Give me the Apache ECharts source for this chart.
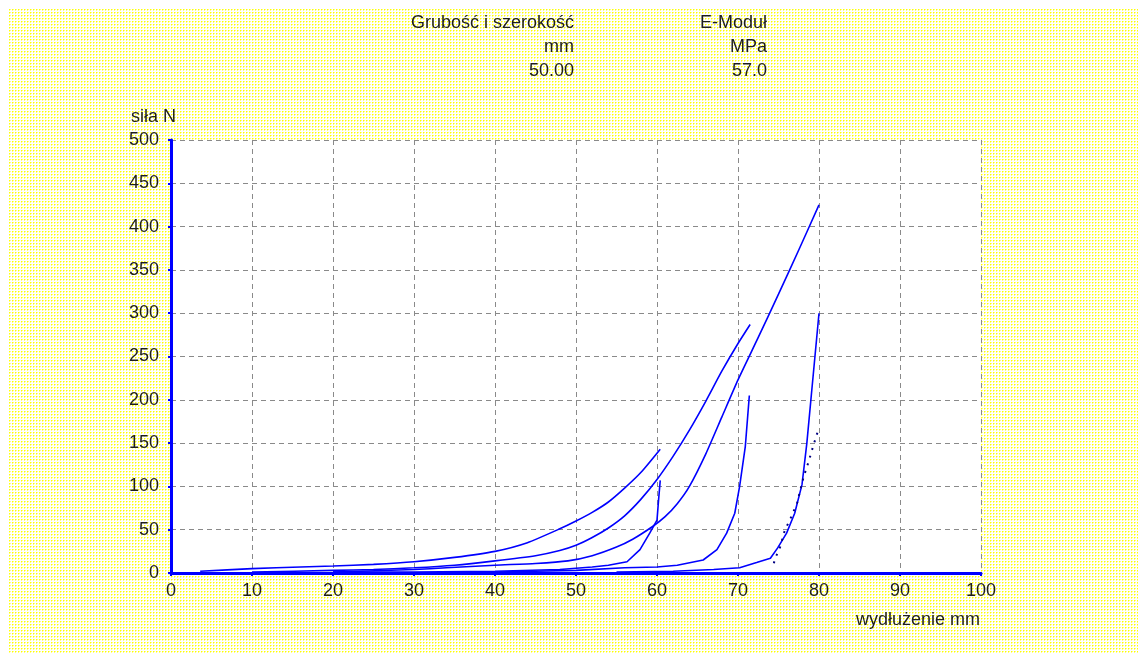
<!DOCTYPE html>
<html><head><meta charset="utf-8">
<script src="https://cdn.jsdelivr.net/npm/echarts@6.0.0/dist/echarts.min.js"></script>
<style>html,body{margin:0;padding:0;background:#fff}#c{width:1138px;height:653px}</style>
</head><body><div id="c"></div>
<script>
// ---- data ----
const headerLeft = ['Grubość i szerokość', 'mm', '50.00'];
const headerRight = ['E-Moduł', 'MPa', '57.0'];
const yAxisTitle = 'siła N';
const xAxisTitle = 'wydłużenie mm';

// loading curves [elongation mm, force N]
const loadA = [[3.6,2],[10,5],[16,7],[20,8],[25,10],[30,13],[35,18],[40,25],[44,35],[48,51],[50,60],[52,70],[54,82],[56,98],[58,116],[60.4,143]];
const loadB = [[10,1],[20,3],[25,4],[30,6],[35,9],[40,14],[45,20],[48,26],[50,32],[52,41],[54,52],[56,66],[58,85],[60,108],[62,135],[64,165],[66,198],[68,233],[70,265],[71.5,287]];
const loadC = [[20,1],[30,4],[34,6],[40,9],[45,11],[49,14],[52,20],[55,30],[57,39],[59.5,54],[61,65],[62.5,80],[64,100],[66,137],[68,180],[70,223],[72.5,272],[75,322],[77.5,373],[80,425]];
// steep branches
const unloadA = [[60.4,107],[60.2,85],[60,61],[59.1,46],[57.9,27],[56.3,13],[54,9],[52,7],[48,4],[40,2],[30,1],[20,1]];
const unloadB = [[71.4,205],[70.9,146],[70.2,100],[69.6,69],[68.6,46],[67.4,27],[65.7,15],[62.5,9],[60,7],[56,6],[50,3],[45,2],[40,1]];
const unloadC = [[80,300],[79.5,250],[79,200],[78.5,150],[77.9,102],[77,69],[76,46],[74.9,29],[74,17],[72.3,12],[70.2,6],[67,4],[62,2],[55,1]];
const dotted = [[79.8,162],[79.2,144],[78.7,128],[78.1,111],[77.3,81],[76.4,61],[75.8,50],[75.2,30],[74.6,17],[74.3,7]];

// ---- chart ----
const tile = document.createElement('canvas');
tile.width = 3; tile.height = 3;
const g = tile.getContext('2d');
g.fillStyle = '#ffffff'; g.fillRect(0,0,3,3);
g.fillStyle = '#ffff00'; g.fillRect(0,0,1,1);
g.fillStyle = '#ffff80'; g.fillRect(1,0,1,1); g.fillRect(0,1,1,1);

const FONT = '"Liberation Sans", Arial, sans-serif';
const TXT = '#1e1e1e';
const BLUE = '#0000ff';

function txt(text, x, y, align) {
  return { type: 'text', x: x, y: y, z: 10, silent: true,
    style: { text: text, font: '18px ' + FONT, fill: TXT, align: align, verticalAlign: 'middle',
             textAlign: align, textVerticalAlign: 'middle' } };
}
const graphics = [
  { type: 'rect', z: -10, silent: true, shape: { x: 8, y: 9, width: 1130, height: 644 },
    style: { fill: { image: tile, repeat: 'repeat' } } },
  { type: 'rect', z: -9, silent: true, shape: { x: 171, y: 140, width: 810, height: 433 },
    style: { fill: '#ffffff' } }
];
headerLeft.forEach((t, i) => graphics.push(txt(t, 574, 23 + i * 24, 'right')));
headerRight.forEach((t, i) => graphics.push(txt(t, 767, 23 + i * 24, 'right')));
graphics.push(txt(yAxisTitle, 131, 117, 'left'));
graphics.push(txt(xAxisTitle, 980, 620, 'right'));

function curve(data, sm) {
  return { type: 'line', data: data, showSymbol: false, symbol: 'none', silent: true,
    smooth: sm,
    lineStyle: { color: BLUE, width: 1.6 }, animation: false };
}

const chart = echarts.init(document.getElementById('c'), null, { renderer: 'canvas' });
chart.setOption({
  animation: false,
  backgroundColor: '#ffffff',
  grid: { left: 171, right: 157, top: 140, bottom: 80, show: false },
  xAxis: {
    type: 'value', min: 0, max: 100, interval: 10,
    axisLine: { show: true, onZero: false, lineStyle: { color: BLUE, width: 3 } },
    axisTick: { show: true, length: 3, lineStyle: { color: BLUE, width: 2 } },
    axisLabel: { color: TXT, fontSize: 18, fontFamily: FONT, margin: 9 },
    splitLine: { show: true, lineStyle: { color: '#8a8a8a', width: 1, type: [5, 4] } }
  },
  yAxis: {
    type: 'value', min: 0, max: 500, interval: 50,
    axisLine: { show: true, onZero: false, lineStyle: { color: BLUE, width: 3 } },
    axisTick: { show: true, length: 3, lineStyle: { color: BLUE, width: 2 } },
    axisLabel: { color: TXT, fontSize: 18, fontFamily: FONT, margin: 12 },
    splitLine: { show: true, lineStyle: { color: '#8a8a8a', width: 1, type: [5, 4] } }
  },
  graphic: graphics,
  series: [
    curve(loadA, 0.2), curve(loadB, 0.2), curve(loadC, 0.2),
    curve(unloadA, false), curve(unloadB, false), curve(unloadC, false),
    { type: 'line', data: dotted, showSymbol: false, symbol: 'none', silent: true,
      lineStyle: { color: '#000080', width: 2, type: [2, 6] } }
  ]
});
</script></body></html>
